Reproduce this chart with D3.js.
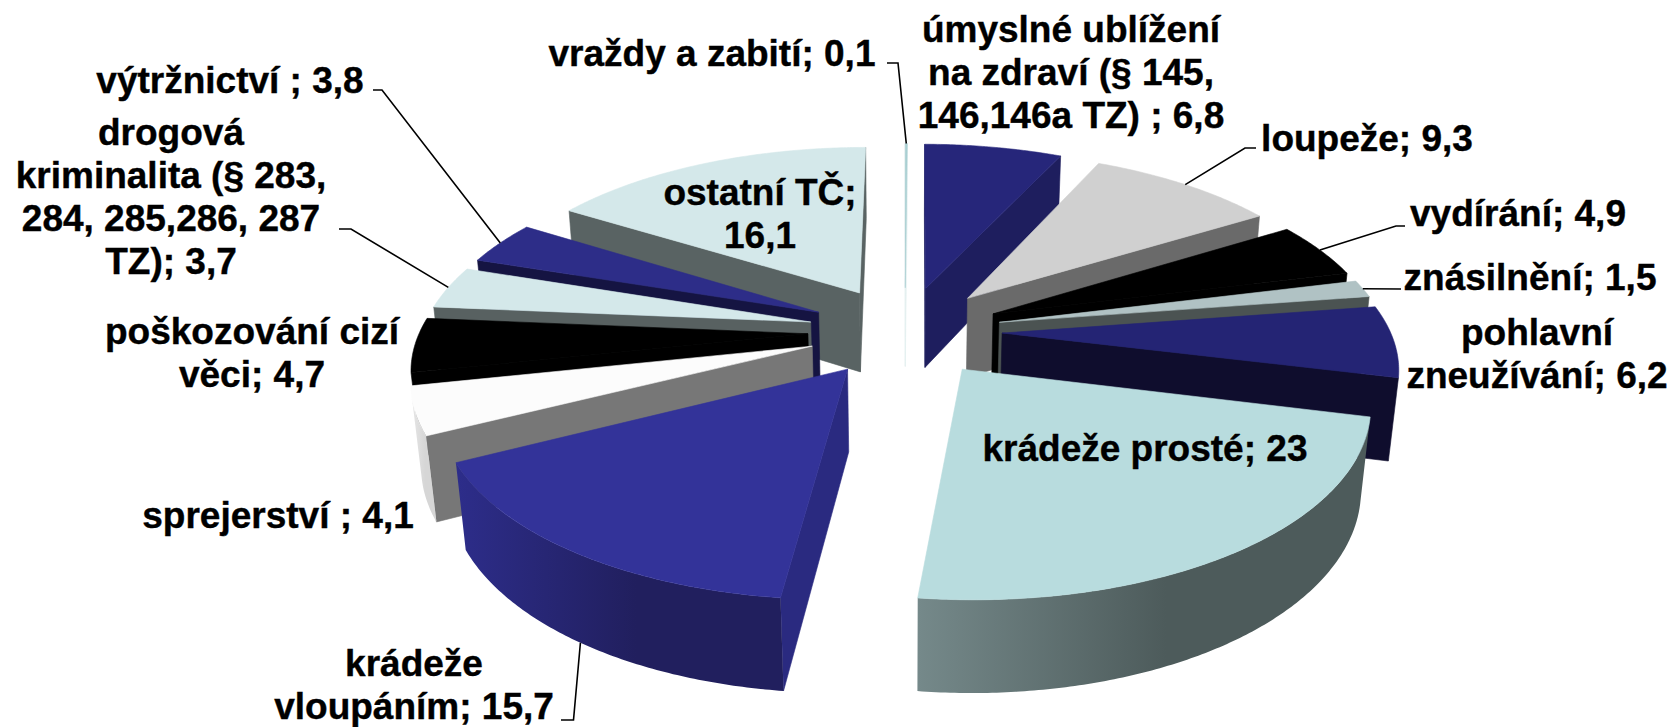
<!DOCTYPE html>
<html lang="cs">
<head>
    <meta charset="UTF-8">
    <title>Struktura trestné činnosti</title>
    <script src="https://d3js.org/d3.v7.min.js"></script>
    <style>
        html, body { margin: 0; padding: 0; background: #fff; }
        svg { display: block; }
        .label { font-family: "Liberation Sans", Arial, sans-serif; font-weight: bold; fill: #000; stroke: #000; stroke-width: 0.4; }
        .leader { fill: none; stroke: #000; stroke-width: 1.6; }
    </style>
</head>
<body>
    <svg id="chart" width="1674" height="727"></svg>
    <script>
        // Data
        const categories = ["vraždy a zabití", "úmyslné ublížení", "loupeže", "vydírání", "znásilnění", "pohlavní zneužívání",
            "krádeže prosté", "krádeže vloupáním", "sprejerství", "poškozování cizí věci", "drogová kriminalita", "výtržnictví", "ostatní TČ"];
        const values = [0.1, 6.8, 9.3, 4.9, 1.5, 6.2, 23, 15.7, 4.1, 4.7, 3.7, 3.8, 16.1];

        // Barvy: horní plocha, řez, vnější plášť (vlevo, vpravo)
        const topColors = ["#a9cfd2", "#26267a", "#d0d0d0", "#000000", "#b0c2c4", "#242474", "#b8dcde", "#333399", "#fcfcfc", "#000000", "#d4e8ea", "#2d2d88", "#d4e8ea"];
        const wallColors = ["#e4f0f0", "#1e1e5e", "#6a6a6a", "#000000", "#4b5352", "#0f0d2d", "#4d5b5b", "#2a2a80", "#777777", "#000000", "#586161", "#151442", "#596363"];
        const outerLeft = ["#b9dcde", "#1e1e5e", "#8a8a8a", "#000000", "#7b8a8b", "#1b1b58", "#75898a", "#2d2d8a", "#e6e6e6", "#000000", "#8fa3a5", "#1b1b58", "#9fb5b7"];
        const outerRight = ["#b9dcde", "#1e1e5e", "#6a6a6a", "#000000", "#4b5352", "#0f0d2d", "#4d5b5b", "#211f5e", "#d6d6d6", "#000000", "#586161", "#151442", "#596363"];

        // Popisky
        const labelLines = [
            ["vraždy a zabití; 0,1"],
            ["úmyslné ublížení", "na zdraví (§ 145,", "146,146a TZ) ; 6,8"],
            ["loupeže; 9,3"],
            ["vydírání; 4,9"],
            ["znásilnění; 1,5"],
            ["pohlavní", "zneužívání; 6,2"],
            ["krádeže prosté; 23"],
            ["krádeže", "vloupáním; 15,7"],
            ["sprejerství ; 4,1"],
            ["poškozování cizí", "věci; 4,7"],
            ["drogová", "kriminalita (§ 283,", "284, 285,286, 287", "TZ); 3,7"],
            ["výtržnictví ; 3,8"],
            ["ostatní TČ;", "16,1"]
        ];
        const labelX = [712, 1071, 1367, 1518, 1530, 1537, 1145, 414, 278, 252, 171, 230, 760];
        const labelY = [66, 42, 151, 226, 290, 345, 461, 676, 528, 344, 145, 93, 205];
        const lineStep = 43;
        const fontSize = 37;
        const textSquash = 1.0;

        // Vodicí čáry: lom a konec čáry u popisku, úroveň začátku (0 horní hrana, 1 spodní hrana)
        const leaderBends = [[[898, 63], [887, 63]], null, [[1245, 148], [1256, 148]], [[1396, 226], [1405, 226]], [[1401, 289]], null, null,
            [[573.5, 720], [561, 720]], null, null, [[351, 229], [339, 229]], [[382, 90], [373, 90]], null];
        const leaderLevel = [0, 0, 0, 0, 0, 0, 0, 1, 0, 0, 0, 0, 0];

        // Perspektiva koláče
        const centerX = 905, centerY = 331;
        const radiusX = 388, radiusY = 180, thickness = 82.5 / 180;
        const explode = 0.25, persp = 0.16, perspDepth = 0.02;

        const xScale = d3.scaleLinear().domain([-1, 1]).range([centerX - radiusX, centerX + radiusX]);
        const yScale = d3.scaleLinear().domain([-1, 1]).range([centerY - radiusY, centerY + radiusY]);

        function project(px, py, z) {
            const w = 1 - persp * py + perspDepth * z;
            return [xScale(px / w), yScale((py + thickness * z) / w)];
        }

        const pie = d3.pie().sort(null).value(d => d).startAngle(0).endAngle(2 * Math.PI);
        const arcs = pie(values);

        const slices = arcs.map((a, i) => {
            const mid = (a.startAngle + a.endAngle) / 2;
            const ox = explode * Math.sin(mid), oy = -explode * Math.cos(mid);
            return {
                i, start: a.startAngle, end: a.endAngle, mid,
                offset: [ox, oy],
                rim: (t, z) => project(ox + Math.sin(t), oy - Math.cos(t), z),
                apex: z => project(ox, oy, z)
            };
        });

        const svg = d3.select("#chart");
        const defs = svg.append("defs");
        const line = d3.line();
        const closed = pts => line(pts) + "Z";

        // Viditelnost stěny: obcházíme výseč po směru hodin, stěna je vidět při záporném součinu
        function facing(a, b, c) {
            return (b[0] - a[0]) * (c[1] - a[1]) - (b[1] - a[1]) * (c[0] - a[0]) < 0;
        }

        // Malujeme odzadu dopředu
        const order = slices.slice().sort((a, b) => a.offset[1] - b.offset[1]);
        const pieG = svg.append("g");

        order.forEach(s => {
            const g = pieG.append("g");
            const n = Math.max(2, Math.ceil((s.end - s.start) / 0.01));
            const angles = d3.range(n + 1).map(k => s.start + (s.end - s.start) * k / n);

            // rezy
            const walls = [
                [s.apex(0), s.rim(s.start, 0), s.rim(s.start, 1), s.apex(1)],
                [s.rim(s.end, 0), s.apex(0), s.apex(1), s.rim(s.end, 1)]
            ];
            walls.forEach(w => {
                if (facing(w[0], w[1], w[3])) {
                    g.append("path").attr("d", closed(w)).attr("fill", wallColors[s.i])
                        .attr("stroke", wallColors[s.i]).attr("stroke-width", 0.6);
                }
            });

            // vnejsi plast
            const seen = angles.filter((t, k) => {
                const before = k > 0 && facing(s.rim(angles[k - 1], 0), s.rim(t, 0), s.rim(angles[k - 1], 1));
                const after = k < n && facing(s.rim(t, 0), s.rim(angles[k + 1], 0), s.rim(t, 1));
                return before || after;
            });
            if (seen.length > 1) {
                const topEdge = seen.map(t => s.rim(t, 0));
                const botEdge = seen.map(t => s.rim(t, 1)).reverse();
                const xs = topEdge.concat(botEdge).map(p => p[0]);
                const id = "outer" + s.i;
                const grad = defs.append("linearGradient").attr("id", id)
                    .attr("gradientUnits", "userSpaceOnUse")
                    .attr("x1", d3.min(xs)).attr("x2", d3.max(xs)).attr("y1", 0).attr("y2", 0);
                grad.append("stop").attr("offset", 0).attr("stop-color", outerLeft[s.i]);
                grad.append("stop").attr("offset", 0.55).attr("stop-color", outerRight[s.i]);
                g.append("path").attr("d", closed(topEdge.concat(botEdge))).attr("fill", "url(#" + id + ")");
            }

            // horni plocha
            const face = [s.apex(0)].concat(angles.map(t => s.rim(t, 0)));
            g.append("path").attr("d", closed(face)).attr("fill", topColors[s.i])
                .attr("stroke", topColors[s.i]).attr("stroke-width", 0.6);
        });

        // Vodicí čáry
        slices.forEach(s => {
            const bends = leaderBends[s.i];
            if (!bends) return;
            svg.append("path").attr("class", "leader").attr("d", line([s.rim(s.mid, leaderLevel[s.i])].concat(bends)));
        });

        // Popisky
        labelLines.forEach((lines, i) => {
            const t = svg.append("g")
                .attr("transform", `translate(${labelX[i]},${labelY[i]}) scale(${textSquash},1)`);
            lines.forEach((txt, k) => {
                t.append("text").attr("class", "label")
                    .attr("y", k * lineStep)
                    .attr("text-anchor", "middle")
                    .style("font-size", fontSize + "px")
                    .text(txt);
            });
        });
    </script>
</body>
</html>
